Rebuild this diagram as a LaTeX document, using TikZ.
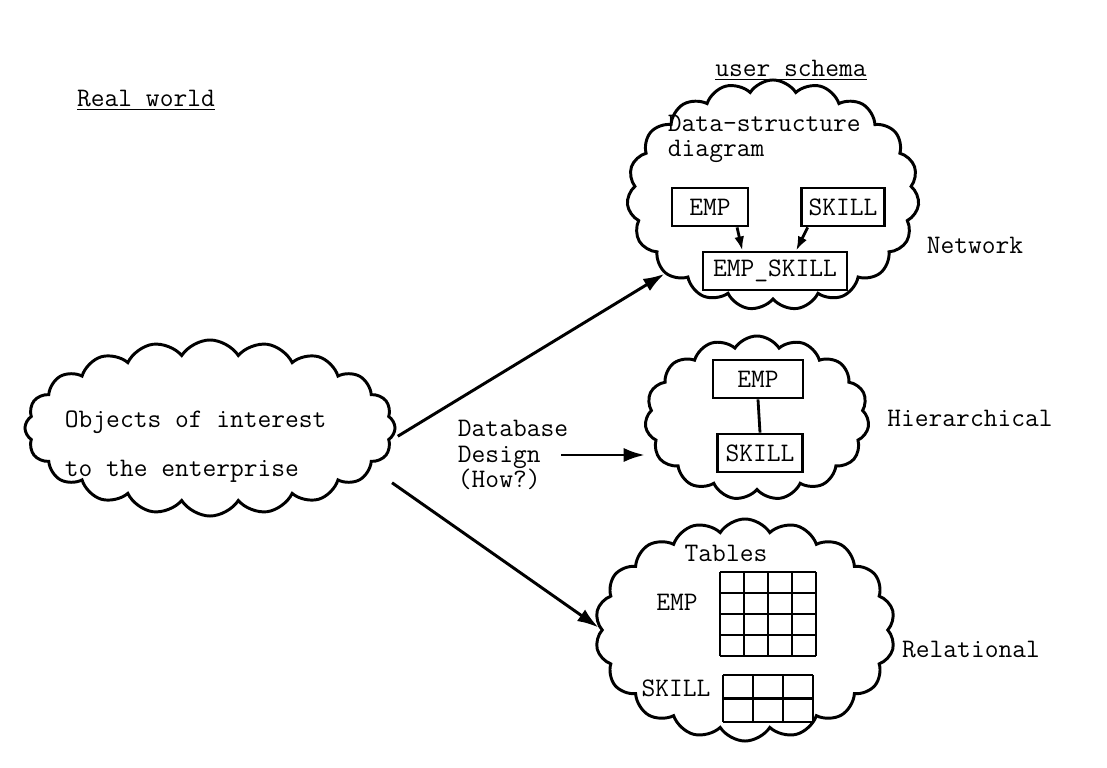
\documentclass[tikz,border=0pt]{standalone}
\usepackage{tikz}
\usetikzlibrary{arrows.meta, positioning, shapes.symbols}

\begin{document}
\begin{tikzpicture}[x=0.025cm, y=-0.025cm,
  every node/.style={font=\ttfamily\fontsize{19}{18}\selectfont},
  cloudy/.style={cloud, draw, line width=2.1pt, cloud puffs=#1, cloud puff arc=115, inner sep=0pt},
  rec/.style={draw, line width=2pt, minimum height=0.95cm, inner sep=0pt},
  flow/.style={line width=2.1pt, -{Latex[length=15pt, width=10pt]}},
  link/.style={line width=2pt, -{Latex[length=10pt, width=7pt]}}]
  % page frame: 1107 x 768 px, 1 px = 0.025 cm
  \useasboundingbox (0,0) rectangle (1107,768);

  % headings
  \node (realhead) at (146,100) {\underline{Real world}};
  \node (userhead) at (791,70) {\underline{user schema}};

  % real world cloud
  \node[cloudy=20, minimum width=9.25cm, minimum height=4.4cm, aspect=2.1] (realcloud) at (210,428) {};
  \node[anchor=west, align=left, font=\ttfamily\fontsize{19}{34.7}\selectfont] (realtext) at (60,447)
    {Objects of interest\\to the enterprise};

  % network schema
  \node[cloudy=19, minimum width=7.3cm, minimum height=5.75cm, aspect=1.27] (netcloud) at (773,195) {};
  \node[anchor=north west, align=left] (nettitle) at (663,110) {Data-structure\\diagram};
  \node[rec, minimum width=1.9cm] (netemp) at (710,207) {EMP};
  \node[rec, minimum width=2.075cm] (netskill) at (843,207) {SKILL};
  \node[rec, minimum width=3.6cm] (netempskill) at (775,271) {EMP\_SKILL};
  \draw[link] (netemp.-37) -- (netempskill.148);
  \draw[link] (netskill.210) -- (netempskill.44);
  \node (netlabel) at (975,245) {Network};

  % hierarchical schema
  \node[cloudy=15, minimum width=5.6cm, minimum height=4.1cm, aspect=1.36] (hiercloud) at (757,418) {};
  \node[rec, minimum width=2.25cm] (hieremp) at (758,379) {EMP};
  \node[rec, minimum width=2.125cm] (hierskill) at (760,453) {SKILL};
  \draw[line width=2pt] (hieremp.south) -- (hierskill.north);
  \node (hierlabel) at (970,418) {Hierarchical};

  % relational schema
  \node[cloudy=18, minimum width=7.5cm, minimum height=5.55cm, aspect=1.35] (relcloud) at (745,630) {};
  \node (reltitle) at (726,553) {Tables};
  \node (relemp) at (677,602) {EMP};
  \node (relskill) at (676,688) {SKILL};
  % EMP table: 4 x 4 cells
  \foreach \c in {0,...,4} {
    \draw[line width=2pt] (720+24*\c,572) -- (720+24*\c,656);
  }
  \foreach \r in {0,...,4} {
    \draw[line width=2pt] (720,572+21*\r) -- (816,572+21*\r);
  }
  % SKILL table: 3 x 2 cells
  \foreach \c in {0,...,3} {
    \draw[line width=2pt] (723+30*\c,675) -- (723+30*\c,722);
  }
  \foreach \r in {0,...,2} {
    \draw[line width=2pt] (723,675+23.5*\r) -- (813,675+23.5*\r);
  }
  \node (rellabel) at (971,649) {Relational};

  % design arrows
  \node[anchor=west, align=left] (dbtext) at (453,455) {Database\\Design\\(How?)};
  \draw[flow, shorten <=6pt] (realcloud.-4) -- (netcloud.216);
  \draw[flow] ([xshift=-0.3cm]dbtext.east) -- (hiercloud.west |- dbtext.east);
  \draw[flow, shorten <=18pt] (realcloud.-14) -- (relcloud.179);
\end{tikzpicture}
\end{document}
